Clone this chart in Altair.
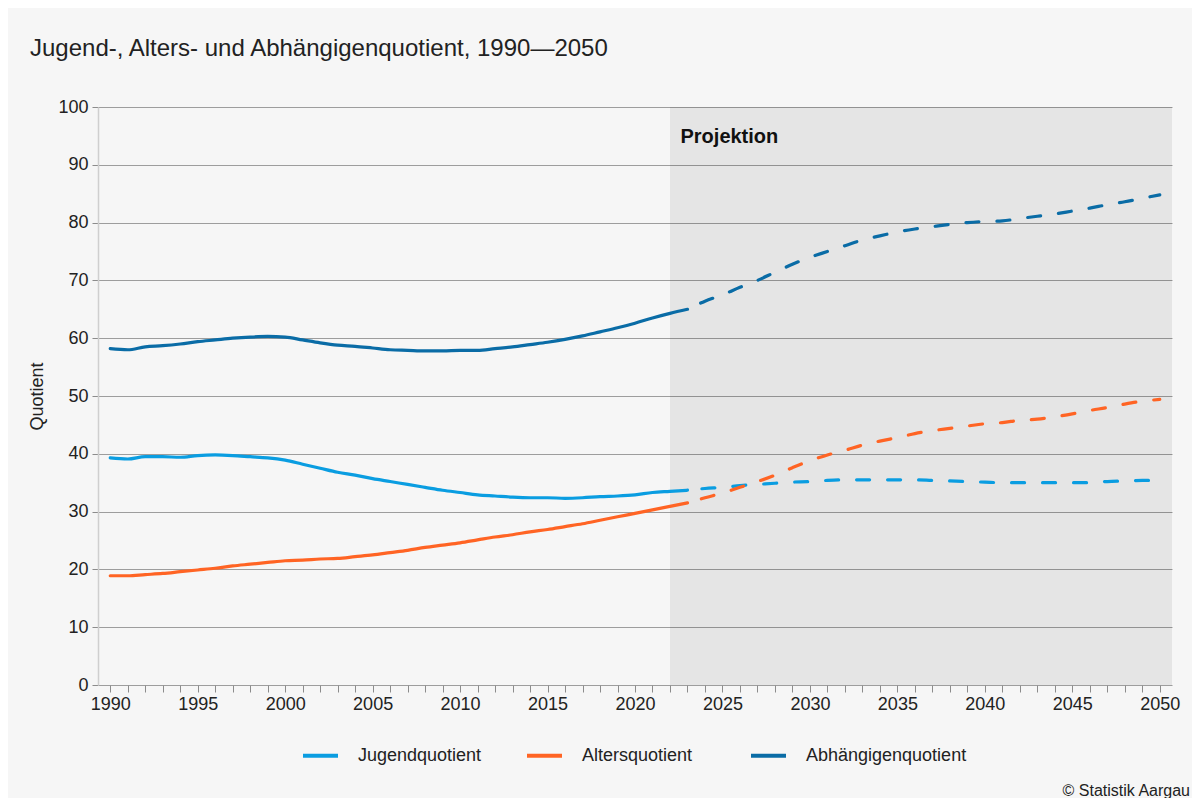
import altair as alt
import pandas as pd

# ---- data ----
series = ["Jugendquotient", "Altersquotient", "Abhängigenquotient"]
colors = ["#0a9de1", "#ff6424", "#0a6ca6"]

years_hist = list(range(1990, 2024))
jugend_hist = [39.3, 39.1, 39.5, 39.5, 39.4, 39.7, 39.8, 39.7, 39.5, 39.3,
               38.9, 38.2, 37.5, 36.8, 36.3, 35.7, 35.2, 34.7, 34.2, 33.7,
               33.3, 32.9, 32.7, 32.5, 32.4, 32.4, 32.3, 32.4, 32.6, 32.7,
               32.9, 33.3, 33.5, 33.7]
alters_hist = [18.9, 18.9, 19.1, 19.3, 19.6, 19.9, 20.2, 20.6, 20.9, 21.2,
               21.5, 21.6, 21.8, 21.9, 22.2, 22.5, 22.9, 23.3, 23.8, 24.2,
               24.6, 25.1, 25.6, 26.0, 26.5, 26.9, 27.4, 27.9, 28.5, 29.1,
               29.7, 30.3, 30.9, 31.5]
abh_hist = [58.2, 58.0, 58.5, 58.7, 59.0, 59.4, 59.7, 60.0, 60.2, 60.3,
            60.2, 59.7, 59.2, 58.8, 58.6, 58.3, 58.0, 57.9, 57.8, 57.8,
            57.9, 57.9, 58.2, 58.5, 58.9, 59.3, 59.8, 60.4, 61.1, 61.8,
            62.6, 63.5, 64.3, 65.0]

years_proj = list(range(2023, 2051))
jugend_proj = [33.7, 34.0, 34.2, 34.5, 34.7, 34.9, 35.1, 35.2, 35.4, 35.5,
               35.5, 35.5, 35.5, 35.5, 35.4, 35.3, 35.2, 35.1, 35.0, 35.0,
               35.0, 35.0, 35.0, 35.0, 35.2, 35.3, 35.4, 35.4]
alters_proj = [31.5, 32.4, 33.2, 34.2, 35.2, 36.3, 37.6, 38.8, 39.8, 40.6,
               41.5, 42.2, 42.8, 43.5, 44.0, 44.4, 44.8, 45.2, 45.4, 45.8,
               46.0, 46.4, 46.9, 47.5, 48.0, 48.6, 49.1, 49.4]
abh_proj = [65.0, 66.4, 67.5, 68.8, 70.0, 71.4, 72.8, 74.0, 75.0, 76.0,
            77.0, 77.7, 78.4, 78.9, 79.3, 79.7, 80.0, 80.2, 80.3, 80.7,
            81.1, 81.5, 82.0, 82.5, 83.1, 83.6, 84.2, 84.8]

projection_start = 2022
x_domain = [1989.3, 2050.7]
title_text = "Jugend-, Alters- und Abhängigenquotient, 1990\u20142050"
source_text = "\u00a9 Statistik Aargau"

# ---- tables ----
hist_rows, proj_rows = [], []
for name, h, p in zip(series, [jugend_hist, alters_hist, abh_hist],
                      [jugend_proj, alters_proj, abh_proj]):
    for yr, v in zip(years_hist, h):
        hist_rows.append({"Jahr": yr, "Quotient": v, "Reihe": name})
    for yr, v in zip(years_proj, p):
        proj_rows.append({"Jahr": yr, "Quotient": v, "Reihe": name})
hist_df = pd.DataFrame(hist_rows)
proj_df = pd.DataFrame(proj_rows)
shade_df = pd.DataFrame({"x": [projection_start], "x2": [x_domain[1]], "y": [0], "y2": [100]})
label_df = pd.DataFrame({"Jahr": [2022.6], "Quotient": [94.8], "t": ["Projektion"]})
src_df = pd.DataFrame({"t": [source_text]})

FONT = "Liberation Sans"

x_scale = alt.Scale(domain=x_domain, nice=False, zero=False)
y_scale = alt.Scale(domain=[0, 100], nice=False)

x_axis = alt.Axis(values=list(range(1990, 2051)), format="d",
                  labelExpr="datum.value % 5 === 0 ? datum.label : ''",
                  grid=False, domain=False, tickSize=7, tickColor="#8c8c8c",
                  labelPadding=3, labelFontSize=18, labelColor="#222222",
                  labelFont=FONT, title=None, labelOverlap=False)
y_axis = alt.Axis(values=list(range(0, 101, 10)), grid=True, gridColor="#9d9d9d",
                  gridWidth=1, domain=True, domainColor="#cfcfcf", domainWidth=1.5,
                  tickSize=6, tickColor="#8c8c8c", labelPadding=4, labelFontSize=18,
                  labelColor="#222222", labelFont=FONT,
                  title="Quotient", titleFont=FONT, titleFontSize=18,
                  titleFontWeight="normal", titleColor="#222222",
                  titleX=-52, titleY=289, titleAngle=-90, titleAlign="center",
                  titleBaseline="bottom")

legend = alt.Legend(orient="none", legendX=203, legendY=629, direction="horizontal",
                    columns=3, gridAlign="all", columnPadding=0, title=None,
                    symbolType="stroke", symbolStrokeWidth=4, symbolSize=1225,
                    labelFontSize=18, labelFont=FONT, labelLimit=400,
                    labelColor="#222222", labelOffset=18)

shade = alt.Chart(shade_df).mark_rect(color="#000000", opacity=0.065).encode(
    x=alt.X("x:Q", scale=x_scale, axis=x_axis), x2="x2:Q",
    y=alt.Y("y:Q", scale=y_scale, axis=y_axis), y2="y2:Q")

solid = alt.Chart(hist_df).mark_line(strokeWidth=3.2, interpolate="monotone",
                                     strokeCap="round").encode(
    x=alt.X("Jahr:Q", scale=x_scale, axis=x_axis),
    y=alt.Y("Quotient:Q", scale=y_scale, axis=y_axis),
    color=alt.Color("Reihe:N", scale=alt.Scale(domain=series, range=colors),
                    sort=series, legend=legend))

dashed = alt.Chart(proj_df).mark_line(strokeWidth=3.2, interpolate="monotone",
                                      strokeCap="round", strokeDash=[13, 18],
                                      strokeDashOffset=16.5).encode(
    x=alt.X("Jahr:Q", scale=x_scale, axis=x_axis),
    y=alt.Y("Quotient:Q", scale=y_scale, axis=y_axis),
    color=alt.Color("Reihe:N", scale=alt.Scale(domain=series, range=colors),
                    sort=series, legend=None))

proj_label = alt.Chart(label_df).mark_text(align="left", baseline="middle", fontSize=20,
                                           fontWeight="bold", font=FONT,
                                           color="#111111").encode(
    x=alt.X("Jahr:Q", scale=x_scale, axis=x_axis),
    y=alt.Y("Quotient:Q", scale=y_scale, axis=y_axis), text="t:N")

source = alt.Chart(src_df).mark_text(align="right", baseline="alphabetic", fontSize=16,
                                     font=FONT, color="#222222").encode(
    x=alt.value(1092), y=alt.value(689), text="t:N")

chart = alt.layer(shade, solid, dashed, proj_label, source).resolve_scale(
    color="independent"
).properties(
    width=1074, height=578,
    title=alt.TitleParams(title_text, anchor="start", frame="bounds", fontSize=24,
                          font=FONT, fontWeight="normal", color="#222222", offset=37,
                          dx=2),
    background="#f6f6f6",
    padding={"left": 90, "top": 99, "right": 20, "bottom": 113},
    autosize=alt.AutoSizeParams(type="none"),
).configure_view(stroke=None, fill="#f6f6f6")

chart.save("out.html", embed_options={"renderer": "svg", "actions": False})
